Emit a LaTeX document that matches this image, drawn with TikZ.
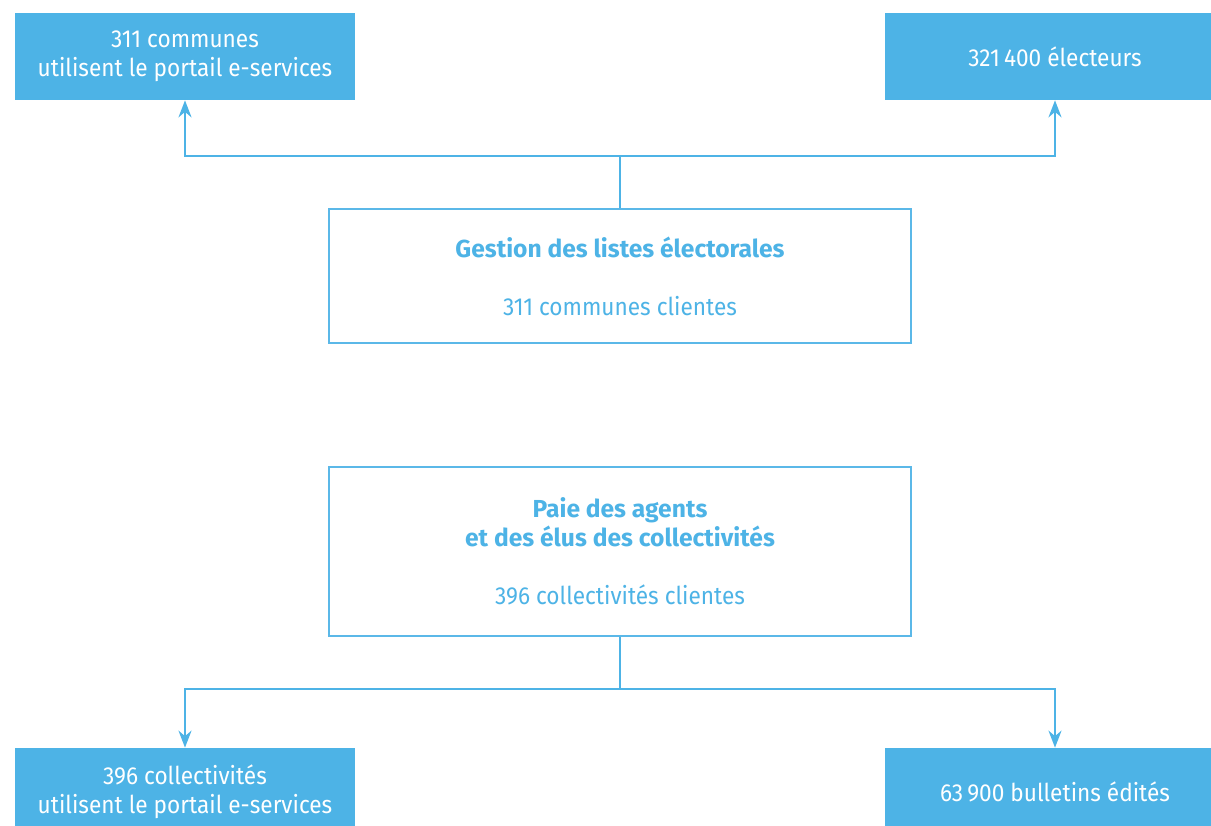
\documentclass[tikz,border=0pt]{standalone}
\usepackage{fontspec}
\setmainfont{Fira Sans}[FakeStretch=0.92,BoldFeatures={FakeStretch=1.0}]
\usepackage{tikz}
\usepackage{xcolor}
\usetikzlibrary{arrows.meta,positioning,calc}
\definecolor{skyblue}{HTML}{4DB3E6}
\definecolor{skyline}{HTML}{5BB8E8}
\tikzset{
  fillcard/.style={draw=none,fill=skyblue,text=white,align=center,
                   minimum width=6.8cm,minimum height=1.74cm,inner sep=0pt,
                   font=\fontsize{14}{16.6}\selectfont},
  linecard/.style={draw=skyline,fill=white,text=skyblue,line width=0.8pt,
                   align=center,minimum width=11.64cm,inner sep=0pt,
                   font=\fontsize{14}{16.6}\selectfont},
  bluelink/.style={draw=skyblue,line width=1.4pt},
  bluearr/.style={-{Stealth[length=3.4mm,width=2.6mm]},line width=1.4pt,
                  draw=skyblue}
}
\begin{document}
\begin{tikzpicture}[x=1cm,y=1cm]
    \path[use as bounding box] (0,0) rectangle (24.22,-16.52);
    \clip (0,0) rectangle (24.22,-16.52);

    % top half
    \node[fillcard] (communes) at (3.70,-1.13)
      {311 communes\\utilisent le portail e-services};
    \node[fillcard] (electeurs) at (21.10,-1.13)
      {321\,400 électeurs};
    \node[linecard,minimum height=2.68cm] (gestion) at (12.40,-5.52)
      {\textbf{Gestion des listes électorales}\\[0.58cm]311 communes clientes};
    \coordinate (topjoin) at (12.40,-3.12);
    \draw[bluelink] (gestion.north) -- (topjoin);
    \draw[bluearr] (topjoin) -| (communes.south);
    \draw[bluearr] (topjoin) -| (electeurs.south);

    % bottom half
    \node[linecard,minimum height=3.38cm] (paie) at (12.40,-11.03)
      {\textbf{Paie des agents}\\\textbf{et des élus des collectivités}\\[0.58cm]396 collectivités clientes};
    \node[fillcard] (collectivites) at (3.70,-15.83)
      {396 collectivités\\utilisent le portail e-services};
    \node[fillcard] (bulletins) at (21.10,-15.83)
      {63\,900 bulletins édités};
    \coordinate (botjoin) at (12.40,-13.78);
    \draw[bluelink] (paie.south) -- (botjoin);
    \draw[bluearr] (botjoin) -| (collectivites.north);
    \draw[bluearr] (botjoin) -| (bulletins.north);
  \end{tikzpicture}
\end{document}
